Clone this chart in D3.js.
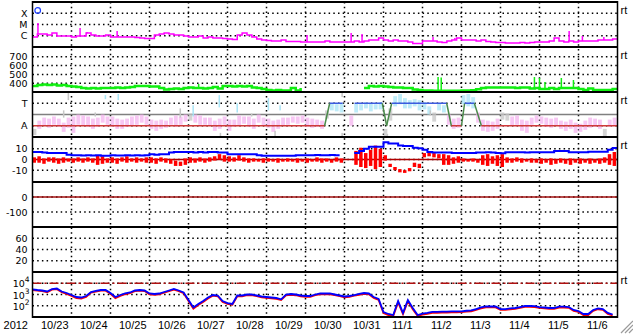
<!DOCTYPE html>
<html>
<head>
<meta charset="utf-8">
<script src="https://d3js.org/d3.v7.min.js"></script>
<style>
  body { margin: 0; background: #fff; }
  svg { display: block; font-family: "Liberation Sans", Arial, sans-serif; }
  .dot { stroke: #000; stroke-width: 1.5; stroke-dasharray: 1.5,3.2; fill: none; }
  .ylab { font-family: "DejaVu Sans", sans-serif; font-size: 9.5px; }
</style>
</head>
<body>
<div id="chart"></div>
<script>
// ---- data, one value per 3-hour bin starting 2012-10-23 00:00 UT ----
var startDate = Date.UTC(2012, 9, 23);
var endDate = Date.UTC(2012, 10, 7);

// X-ray flux (W/m2), base level
var xray = [7.7e-7, 1.43e-6, 1.43e-6, 1.17e-6, 1.75e-6, 9.5e-7, 9.5e-7, 9.5e-7,
  7.7e-7, 9.5e-7, 9.5e-7, 1.75e-6, 1.17e-6, 9.5e-7, 9.5e-7, 1.17e-6,
  7.7e-7, 7.7e-7, 7.7e-7, 7.7e-7, 7.7e-7, 7.0e-7, 6.3e-7, 5.7e-7,
  5.7e-7, 1.17e-6, 1.43e-6, 1.75e-6, 1.43e-6, 1.17e-6, 1.17e-6, 9.5e-7,
  7.7e-7, 7.7e-7, 9.5e-7, 6.3e-7, 7.7e-7, 6.3e-7, 6.3e-7, 5.7e-7,
  5.1e-7, 4.6e-7, 1.17e-6, 1.75e-6, 1.17e-6, 7.7e-7, 5.1e-7, 4.2e-7,
  3.8e-7, 3.4e-7, 3.4e-7, 4.2e-7, 3.1e-7, 3.1e-7, 3.1e-7, 2.8e-7,
  2.8e-7, 2.8e-7, 2.8e-7, 2.8e-7, 3.4e-7, 2.8e-7, 2.8e-7, 2.8e-7,
  2.8e-7, 2.8e-7, 3.4e-7, 2.8e-7, 3.4e-7, 4.2e-7, 4.2e-7, 6.3e-7,
  4.2e-7, 3.4e-7, 4.2e-7, 3.4e-7, 3.4e-7, 2.8e-7, 2.05e-7, 2.05e-7,
  3.4e-7, 3.4e-7, 3.4e-7, 2.8e-7, 2.5e-7, 3.4e-7, 4.2e-7, 6.3e-7,
  4.2e-7, 4.2e-7, 4.2e-7, 3.4e-7, 4.2e-7, 3.1e-7, 2.8e-7, 2.5e-7,
  2.5e-7, 2.3e-7, 2.3e-7, 2.3e-7, 2.5e-7, 2.3e-7, 2.5e-7, 2.8e-7,
  2.8e-7, 2.8e-7, 3.4e-7, 6.3e-7, 3.4e-7, 2.8e-7, 3.4e-7, 2.8e-7,
  3.4e-7, 3.4e-7, 3.4e-7, 3.4e-7, 4.2e-7, 4.2e-7, 4.2e-7, 5.1e-7];
// short flare peaks (day offset, flux)
var xraySpikeDay = [0.14, 1.22, 1.4, 2.17, 3.45, 7.04, 8.17, 8.45, 10.27, 10.83, 13.42, 13.76, 14.1, 14.65];
var xraySpikeFlux = [1.36e-5, 4.9e-6, 2.2e-6, 2.6e-6, 1.75e-6, 1.17e-6, 1.75e-6, 1.43e-6, 7.7e-7, 6.3e-7, 6.3e-7, 2.6e-6, 9.5e-7, 7.7e-7];
var xrayMarkDay = 0.133, xrayMarkFlux = 1.8e-4;
var xrayLevels = [1e-4, 1e-5, 1e-6];
var xrayNames = ["X", "M", "C"];

// solar wind speed (km/s)
var speed = [368, 380, 385, 380, 385, 374, 380, 368,
  363, 357, 345, 340, 345, 340, 345, 345,
  345, 351, 345, 351, 357, 368, 368, 368,
  363, 363, 345, 328, 334, 340, 334, 345,
  351, 345, 345, 340, 345, 357, 340, 368,
  368, 363, 368, 363, 368, 351, 345, 334,
  323, 317, 323, 317, 317, 345, 317, 345,
  null, null, null, null, null, null, null, null,
  null, null, null, null, 345, 368, 363, 368,
  363, 357, 351, 351, 345, 345, 328, 323,
  317, 317, 315, 315, 315, 315, 315, 315,
  316, 318, 320, 330, 345, 351, 351, 351,
  351, 351, 351, 345, 351, 351, 340, 345,
  334, 334, 345, 334, 345, 345, 345, 345,
  334, 323, 340, 323, 323, 323, 323, 334];
var speedSpikeDay = [4.26, 10.4, 10.48, 12.87, 13.0, 13.14, 13.56, 13.87];
var speedSpikeVal = [391, 470, 465, 470, 459, 414, 459, 436];
var speedTicks = [400, 500, 600, 700];

// IMF longitude angle (deg), min and max in each bin
var phiHi = [110, 176, 200, 192, 209, 192, 160, 200,
  209, 225, 217, 209, 192, 200, 225, 209,
  209, 192, 184, 192, 209, 217, 225, 209,
  184, 176, 184, 176, 200, 217, 209, 225,
  233, 225, 217, 200, 200, 176, 192, 209,
  184, 184, 217, 209, 209, 192, 225, 200,
  192, 176, 184, 200, 200, 209, 209, 217,
  200, 192, 184, 176, 258, 315, 307, 315,
  null, 217, 315, 307, 323, 315, 307, 323,
  110, 274, 372, 389, 356, 340, 348, 340,
  323, 290, 241, 315, 299, 225, 192, 200,
  380, 389, 364, 241, 184, 176, 168, 192,
  241, 233, 209, 217, 184, 176, 200, 217,
  209, 200, 192, 200, 176, 168, 184, 160,
  151, 176, 200, 192, 184, 110, 184, 200];
var phiLo = [61, 110, 135, 119, 143, 127, 86, 119,
  78, 143, 135, 127, 110, 127, 160, 143,
  127, 110, 110, 127, 135, 143, 160, 143,
  110, 94, 110, 119, 143, 127, 143, 168,
  176, 160, 143, 143, 135, 94, 110, 143,
  94, 127, 135, 151, 127, 110, 160, 135,
  119, 86, 110, 135, 143, 160, 151, 160,
  127, 119, 127, 110, 192, 258, 250, 241,
  null, 135, 241, 258, 274, 250, 266, 266,
  45, 176, 290, 307, 274, 274, 290, 258,
  266, 225, 168, 258, 241, 143, 110, 119,
  307, 290, 274, 160, 94, 86, 94, 110,
  184, 176, 135, 143, 94, 78, 143, 160,
  151, 127, 119, 135, 110, 94, 110, 78,
  86, 102, 119, 127, 110, 37, 127, 135];
// scattered single readings (day offset, min, max)
var phiStrayDay = [0.9, 0.78, 1.85, 2.18, 1.59, 3.77, 4.1, 4.77, 4.8, 5.23, 5.6, 6.03, 6.2, 6.33, 7.92, 7.92, 9.08, 10.18];
var phiStrayLo = [340, 200, 348, 340, 209, 200, 209, 282, 45, 241, 209, 258, 37, 258, 364, 45, 37, 217];
var phiStrayHi = [405, 258, 380, 389, 241, 274, 299, 380, 78, 315, 233, 356, 94, 299, 405, 78, 70, 258];
// sector polarity: A = 135, T = 315
var sectorDay = [0, 7.49, 7.62, 7.95, 8.1, 8.26, 8.97, 9.08, 9.21, 10.62, 10.74, 11.0, 11.08, 11.33, 11.51, 15];
var sectorPhi = [135, 135, 315, 315, null, 315, 315, 135, 315, 315, 135, 135, 315, 315, 135, 135];

// IMF Bt and Bz (nT)
var bt = [7, 7, 6.5, 6, 6, 6, 6, 4.5,
  4, 4, 3.8, 4, 3.8, 4, 3.5, 3.5,
  4, 3.8, 3.8, 4, 3.8, 4, 3.8, 4,
  5, 4.5, 5, 5, 6.5, 7, 7, 7,
  7, 6.5, 7, 6.5, 7, 7, 6.5, 6.5,
  5, 5, 5, 5, 5, 5, 4, 3.5,
  3.5, 3.5, 3.5, 3.5, 3.5, 3.5, 4, 4,
  4, 4, 4.2, 4, 4, 4.2, 4, 4,
  null, null, 6, 8, 10, 12, 12, 12,
  16, 15, 15, 13, 12.5, 12.5, 11, 10.5,
  9, 7, 6.5, 6.5, 6.5, 6.5, 6, 6,
  6, 6, 6, 6.5, 6.5, 6.7, 6.5, 6,
  5.8, 6.7, 6.7, 6.7, 6.7, 6.5, 6.7, 6.7,
  6.7, 6.7, 6.7, 8, 8, 8, 6.7, 6.7,
  6.7, 6.7, 7.3, 7.3, 7.3, 7.3, 9, 10.7];
var bzHi = [2, 3, 1, 2, 2, 1, 2, 1, 1, 2, 1, 2, 1, 4, 3, 1,
  2, 1, 2, 3, 1, 2, 1, 2, 2, 1, 2, 1, 0, -1, -2, 1,
  2, 1, 2, 1, 2, 3, 5, 4, 3, 2, 4, 2, 1, 1, 0, 1,
  1, 0, 1, 0, 1, 0, 1, 0, 1, 0, 2, 1, 1, 0, 2, 1,
  null, null, 8, 11, 6, 9, 13, 10, 4, -4, -7, -9, -10, -8, -3, -4,
  6, 7, 6, 5, 5, 4, 2, 3, 1, 0, 1, 0, 4, 5, 3, 4,
  5, 2, 1, 2, 1, 0, 1, 0, 1, 0, 1, 0, 1, 0, 1, 0,
  1, 0, 1, 0, 1, 2, 5, 7];
var bzLo = [-3, -3, -4, -2, -3, -4, -3, -2, -3, -2, -3, -2, -3, -5, -4, -3,
  -3, -4, -2, -3, -2, -3, -2, -3, -3, -4, -2, -3, -4, -6, -6, -5,
  -3, -3, -2, -3, -2, -1, 0, -2, -2, -2, -1, -2, -3, -2, -2, -3,
  -2, -2, -3, -2, -2, -2, -3, -2, -3, -2, -2, -3, -2, -3, -2, -3,
  null, null, -5, -7, -8, -6, -9, -7, -1, -7, -10, -12, -12.5, -11, -7, -8,
  2, 3, 2, 1, -5, -5, -4, -3, -2, -2, -2, -3, -5, -6, -4, -6,
  -7, -3, -3, -2, -3, -2, -3, -3, -4, -3, -5, -4, -3, -4, -5, -3,
  -4, -3, -4, -3, -4, -3, -5, -6];
var bTicks = [10, 0, -10];

var dstTicks = [0, -100];
var kpTicks = [60, 40, 20];

// electron flux, two channels
var eBlue = [2900, 2510, 2270, 1850, 3080, 3400, 1850, 1360,
  900, 600, 540, 735, 1670, 2050, 2510, 2510,
  1360, 600, 900, 1230, 1510, 2270, 2510, 2270,
  1230, 1110, 1230, 1670, 2270, 3080, 2270, 1510,
  325, 70, 143, 265, 540, 900, 815, 265,
  175, 143, 815, 815, 1000, 1000, 815, 665,
  600, 540, 490, 375, 1000, 1110, 1000, 815,
  735, 735, 1000, 1230, 1230, 1230, 1000, 815,
  665, 735, 900, 1110, 1360, 1230, 600, 400,
  28, 18.5, 15, 265, 23, 325, 63, 15,
  20, 23, 28, 28, 30, 30, 31, 31,
  32, 36, 38, 51, 70, 86, 86, 86,
  51, 51, 59, 63, 77, 95, 95, 91,
  77, 70, 63, 63, 82, 82, 77, 42,
  34, 18.5, 18.5, 42, 59, 51, 23, 16.7];
var eRed = [2500, 2200, 2000, 1600, 2700, 3000, 1600, 1150,
  750, 480, 430, 620, 1450, 1800, 2200, 2200,
  1150, 480, 750, 1050, 1300, 2000, 2200, 2000,
  1050, 950, 1050, 1450, 2000, 2700, 2000, 1300,
  270, 55, 115, 220, 450, 780, 700, 220,
  145, 120, 700, 700, 860, 860, 700, 570,
  510, 460, 410, 320, 860, 950, 860, 700,
  630, 630, 860, 1050, 1050, 1050, 860, 700,
  570, 630, 780, 950, 1150, 1050, 500, 330,
  22, 15, 12.5, 200, 18, 260, 50, 12.5,
  16, 19, 23, 23, 25, 25, 26, 26,
  27, 30, 32, 43, 58, 72, 72, 72,
  43, 43, 49, 53, 65, 80, 80, 77,
  65, 58, 53, 53, 68, 68, 65, 35,
  28, 15, 15, 35, 49, 43, 19, 14];
var eTicks = [1e4, 1e3, 1e2];
var eThreshold = 1e4;

// ---- layout ----
var width = 633, height = 334;
var left = 32.5, right = 617.5;
var panelTops = [2, 47, 92, 137, 182, 227, 272, 317];
var rtPanels = [0, 1, 2, 3, 6];
var stepMs = 3 * 3600 * 1000;
var dayMs = 86400000;

var svg = d3.select("#chart").append("svg")
  .attr("width", width).attr("height", height);
svg.append("rect").attr("width", width).attr("height", height).attr("fill", "#fff");

var x = d3.scaleUtc().domain([startDate, endDate]).range([left, right]);
var binW = x(startDate + stepMs) - x(startDate);

function binTime(i) { return startDate + i * stepMs; }
function dayTime(d) { return startDate + d * dayMs; }

// one y scale per panel
var yX = d3.scaleLog().domain([1e-7, 1e-3]).range([47, 2]);
var yV = d3.scaleLinear().domain([300, 811]).range([92, 47]);
var yPhi = d3.scaleLinear().domain([45, 405]).range([137, 92]);
var yB = d3.scaleLinear().domain([-21, 21]).range([182, 137]);
var yDst = d3.scaleLinear().domain([-200, 100]).range([227, 182]);
var yKp = d3.scaleLinear().domain([0, 80]).range([272, 227]);
var yE = d3.scaleLog().domain([10, 1e5]).range([317, 272]);

var grid = svg.append("g");
var marks = svg.append("g");
var frame = svg.append("g");

// dotted day lines
grid.selectAll(".vday")
  .data(d3.utcDay.range(dayTime(1), endDate))
  .join("line")
    .attr("class", "dot")
    .attr("x1", d => x(d)).attr("x2", d => x(d))
    .attr("y1", 2).attr("y2", 317);

function hGrid(scale, values) {
  grid.append("g").selectAll("line")
    .data(values)
    .join("line")
      .attr("class", "dot")
      .attr("x1", left).attr("x2", right)
      .attr("y1", d => scale(d)).attr("y2", d => scale(d));
}

function leftLabels(scale, values, names) {
  frame.append("g").selectAll("text")
    .data(values)
    .join("text")
      .attr("class", "ylab")
      .attr("x", 27.5)
      .attr("y", d => scale(d) + 3.5)
      .attr("text-anchor", "end")
      .text((d, i) => names ? names[i] : d);
}

// step line through 3-hour bins
function stepPoints(vals) {
  var pts = vals.map((v, i) => ({t: binTime(i), v: v}));
  pts.push({t: binTime(vals.length), v: vals[vals.length - 1]});
  return pts;
}

function drawLine(pts, scale, color, w, curve) {
  var line = d3.line()
    .defined(d => d.v != null)
    .x(d => x(d.t))
    .y(d => scale(d.v))
    .curve(curve || d3.curveLinear);
  marks.append("path")
    .datum(pts)
    .attr("fill", "none")
    .attr("stroke", color)
    .attr("stroke-width", w)
    .attr("d", line);
}

function drawSpikes(days, peaks, base, scale, color, w) {
  marks.append("g").selectAll("line")
    .data(days)
    .join("line")
      .attr("x1", d => x(dayTime(d))).attr("x2", d => x(dayTime(d)))
      .attr("y1", d => scale(base[Math.floor(d * 8)]))
      .attr("y2", (d, i) => scale(peaks[i]))
      .attr("stroke", color)
      .attr("stroke-width", w);
}

// min/max band, one bar per bin
function drawBand(lo, hi, scale, colorFn, opacity, gap) {
  var rows = lo.map((l, i) => ({t: binTime(i), lo: l, hi: hi[i]})).filter(d => d.lo != null);
  marks.append("g").selectAll("rect")
    .data(rows)
    .join("rect")
      .attr("x", d => x(d.t))
      .attr("width", binW - gap)
      .attr("y", d => scale(d.hi))
      .attr("height", d => Math.max(1, scale(d.lo) - scale(d.hi)))
      .attr("fill", d => colorFn(d))
      .attr("fill-opacity", opacity);
}

// ---- panel 1: X-ray ----
hGrid(yX, xrayLevels);
leftLabels(yX, xrayLevels, xrayNames);
drawLine(stepPoints(xray), yX, "#ff00ff", 1.5, d3.curveStepAfter);
drawSpikes(xraySpikeDay, xraySpikeFlux, xray, yX, "#ff00ff", 1.5);
marks.append("circle")
  .attr("cx", x(dayTime(xrayMarkDay)))
  .attr("cy", yX(xrayMarkFlux))
  .attr("r", 2.8)
  .attr("fill", "none")
  .attr("stroke", "#1a3cff")
  .attr("stroke-width", 1.2);

// ---- panel 2: speed ----
hGrid(yV, speedTicks);
leftLabels(yV, speedTicks);
drawLine(stepPoints(speed), yV, "#11ee11", 2.5, d3.curveStepAfter);
drawSpikes(speedSpikeDay, speedSpikeVal, speed, yV, "#11ee11", 1.5);

// ---- panel 3: IMF angle ----
hGrid(yPhi, [315, 135]);
leftLabels(yPhi, [315, 135], ["T", "A"]);
marks.append("line")
  .attr("x1", left).attr("x2", right)
  .attr("y1", yPhi(225)).attr("y2", yPhi(225))
  .attr("stroke", "#808080").attr("stroke-width", 1.5);

function phiColor(d) {
  var m = (d.lo + d.hi) / 2;
  if (m >= 90 && m <= 202) return "#f4b4ef";
  if (m >= 250 && m <= 370) return "#a8e4f6";
  return "#c6c6c6";
}

drawBand(phiLo, phiHi, yPhi, phiColor, 0.75, 1);

marks.append("g").selectAll("rect")
  .data(phiStrayDay.map((d, i) => ({t: dayTime(d), lo: phiStrayLo[i], hi: phiStrayHi[i]})))
  .join("rect")
    .attr("x", d => x(d.t))
    .attr("width", 1.5)
    .attr("y", d => yPhi(d.hi))
    .attr("height", d => yPhi(d.lo) - yPhi(d.hi))
    .attr("fill", phiColor);

// sector polarity segments
var sectorSegs = [];
for (var i = 0; i < sectorDay.length - 1; i++) {
  if (sectorPhi[i] == null || sectorPhi[i + 1] == null) continue;
  sectorSegs.push({d0: sectorDay[i], d1: sectorDay[i + 1], p0: sectorPhi[i], p1: sectorPhi[i + 1]});
}
marks.append("g").selectAll("line")
  .data(sectorSegs)
  .join("line")
    .attr("x1", d => x(dayTime(d.d0))).attr("x2", d => x(dayTime(d.d1)))
    .attr("y1", d => yPhi(d.p0)).attr("y2", d => yPhi(d.p1))
    .attr("stroke", d => d.p0 != d.p1 ? "#4a8a4a" : (d.p0 == 315 ? "#3c5ce0" : "#d03a3a"))
    .attr("stroke-width", 1.5);

// ---- panel 4: Bt / Bz ----
hGrid(yB, bTicks);
leftLabels(yB, bTicks);
marks.append("line")
  .attr("x1", left).attr("x2", right)
  .attr("y1", yB(0)).attr("y2", yB(0))
  .attr("stroke", "#b00000").attr("stroke-width", 1.5);
drawBand(bzLo, bzHi, yB, () => "#ff0000", 1, 1.4);
drawLine(stepPoints(bt), yB, "#0000ff", 2, d3.curveStepAfter);

// ---- panel 5: Dst ----
hGrid(yDst, dstTicks);
leftLabels(yDst, dstTicks);
marks.append("line")
  .attr("x1", left).attr("x2", right)
  .attr("y1", yDst(0)).attr("y2", yDst(0))
  .attr("stroke", "#a01010").attr("stroke-width", 1.5);

// ---- panel 6 ----
hGrid(yKp, kpTicks);
leftLabels(yKp, kpTicks);

// ---- panel 7: electrons ----
hGrid(yE, eTicks);
marks.append("line")
  .attr("x1", left).attr("x2", right)
  .attr("y1", yE(eThreshold)).attr("y2", yE(eThreshold))
  .attr("stroke", "#b01010").attr("stroke-width", 1.5)
  .attr("stroke-dasharray", "9,3,2,3");
drawLine(stepPoints(eRed).slice(0, eRed.length), yE, "#ff0000", 1.8);
drawLine(stepPoints(eBlue).slice(0, eBlue.length), yE, "#0000ff", 1.8);

var eLab = frame.append("g").selectAll("text")
  .data(eTicks)
  .join("text")
    .attr("class", "ylab")
    .attr("x", 29.5)
    .attr("y", d => yE(d) + 4)
    .attr("text-anchor", "end");
eLab.append("tspan").text("10");
eLab.append("tspan")
  .attr("dy", -5)
  .style("font-size", "7.5px")
  .text(d => Math.round(Math.log10(d)));

// ---- frame ----
frame.selectAll(".sep")
  .data(panelTops)
  .join("line")
    .attr("x1", left).attr("x2", right)
    .attr("y1", d => d).attr("y2", d => d)
    .attr("stroke", "#000").attr("stroke-width", 2);
frame.append("line")
  .attr("x1", left).attr("x2", left).attr("y1", 1).attr("y2", 318)
  .attr("stroke", "#000").attr("stroke-width", 1.5);
frame.append("line")
  .attr("x1", right).attr("x2", right).attr("y1", 1).attr("y2", 318)
  .attr("stroke", "#000").attr("stroke-width", 1.5);

frame.append("g").selectAll("text")
  .data(rtPanels)
  .join("text")
    .attr("x", 620.5)
    .attr("y", d => panelTops[d] + 12)
    .style("font-size", "11px")
    .text("rt");

// x axis labels
frame.append("g").selectAll("text")
  .data(d3.utcDay.range(startDate, endDate))
  .join("text")
    .attr("x", d => x(d) + 8.5)
    .attr("y", 329)
    .style("font-size", "11px")
    .text(d3.utcFormat("%-m/%-d"));
frame.append("text")
  .attr("x", 28).attr("y", 329)
  .attr("text-anchor", "end")
  .style("font-size", "11px")
  .text(d3.utcFormat("%Y")(startDate));

// window resize grip
frame.append("g").selectAll("line")
  .data([0, 4, 8])
  .join("line")
    .attr("x1", d => 621 + d).attr("y1", 333)
    .attr("x2", 633).attr("y2", d => 321 + d)
    .attr("stroke", "#9a9a9a").attr("stroke-width", 1.2);
</script>
</body>
</html>
